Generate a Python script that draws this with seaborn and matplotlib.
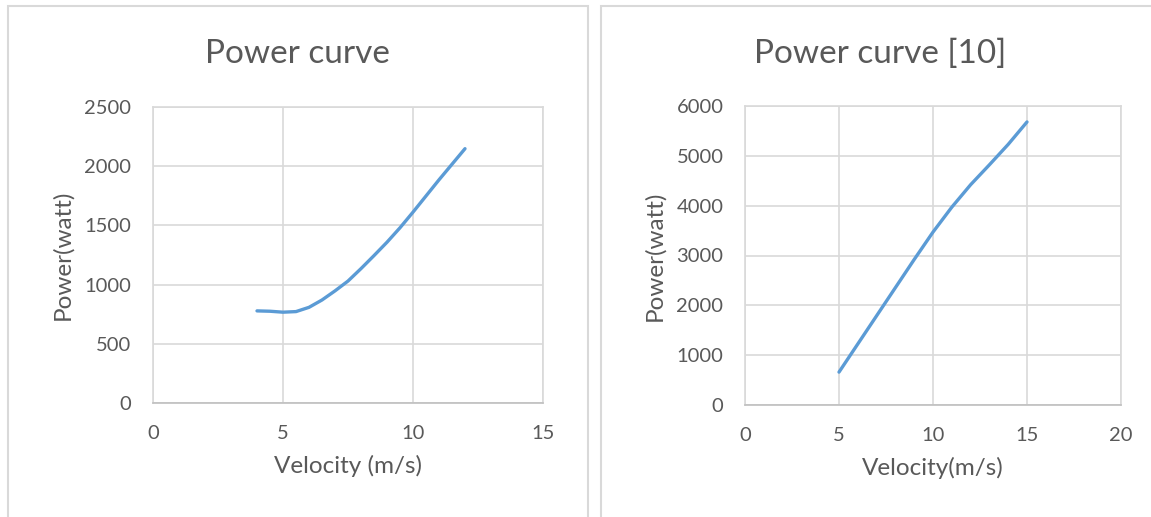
import matplotlib
matplotlib.use("Agg")
import matplotlib.pyplot as plt
import seaborn as sns
import pandas as pd
from matplotlib.patches import Rectangle

# Measured power curve of the turbine
velocity_a = [4, 4.5, 5, 5.5, 6, 6.5, 7, 7.5, 8, 8.5, 9, 9.5, 10, 11, 12]
power_a = [778, 775, 767, 772, 808, 870, 947, 1030, 1135, 1245, 1358, 1480, 1612, 1885, 2148]

# Reference power curve [10]
velocity_b = [5, 6, 7, 8, 9, 10, 11, 12, 13, 14, 15]
power_b = [660, 1225, 1790, 2355, 2920, 3470, 3970, 4420, 4820, 5230, 5680]

xticks_a = [0, 5, 10, 15]
yticks_a = [0, 500, 1000, 1500, 2000, 2500]
xticks_b = [0, 5, 10, 15, 20]
yticks_b = [0, 1000, 2000, 3000, 4000, 5000, 6000]

sns.set_theme(style="white")
plt.rcParams["font.family"] = ["Lato", "DejaVu Sans"]

TEXT = "#595959"
GRID = "#d9d9d9"
LINE = "#5B9BD5"

fig = plt.figure(figsize=(11.51, 5.17), dpi=100)

# chart frames
fig.patches.append(Rectangle((8 / 1151, -0.05), 580 / 1151, 1.05 - 6 / 517,
                             transform=fig.transFigure, fill=False,
                             edgecolor=GRID, linewidth=1.5))
fig.patches.append(Rectangle((601 / 1151, -0.05), 0.5, 1.05 - 6 / 517,
                             transform=fig.transFigure, fill=False,
                             edgecolor=GRID, linewidth=1.5))

ax1 = fig.add_axes([153 / 1151, 1 - 403 / 517, 390 / 1151, 296 / 517])
ax2 = fig.add_axes([745 / 1151, 1 - 405 / 517, 376 / 1151, 299 / 517])

df_a = pd.DataFrame({"v": velocity_a, "p": power_a})
df_b = pd.DataFrame({"v": velocity_b, "p": power_b})

panels = [
    (ax1, df_a, xticks_a, yticks_a, "Velocity (m/s)"),
    (ax2, df_b, xticks_b, yticks_b, "Velocity(m/s)"),
]

for ax, df, xt, yt, xlabel in panels:
    sns.lineplot(data=df, x="v", y="p", ax=ax, color=LINE, linewidth=2.4,
                 solid_capstyle="round", solid_joinstyle="round", zorder=3)
    ax.set_xlim(xt[0], xt[-1])
    ax.set_ylim(yt[0], yt[-1])
    ax.set_xticks(xt)
    ax.set_yticks(yt)
    ax.grid(True, color=GRID, linewidth=1.2)
    ax.set_axisbelow(True)
    for s in ax.spines.values():
        s.set_color(GRID)
        s.set_linewidth(1.2)
    ax.spines["bottom"].set_color("#bfbfbf")
    ax.tick_params(axis="both", length=0, labelsize=14.5, labelcolor=TEXT)
    ax.tick_params(axis="x", pad=16)
    ax.tick_params(axis="y", pad=15.5)
    ax.set_xlabel(xlabel, fontsize=17.5, color=TEXT, labelpad=9)
    ax.set_ylabel("Power(watt)", fontsize=17.5, color=TEXT, labelpad=8)

fig.text(297 / 1151, 1 - 54 / 517, "Power curve", ha="center", va="center",
         fontsize=24, color=TEXT)
fig.text(880 / 1151, 1 - 54 / 517, "Power curve [10]", ha="center", va="center",
         fontsize=24, color=TEXT)

fig.savefig("out.png", dpi=100, facecolor="white")
